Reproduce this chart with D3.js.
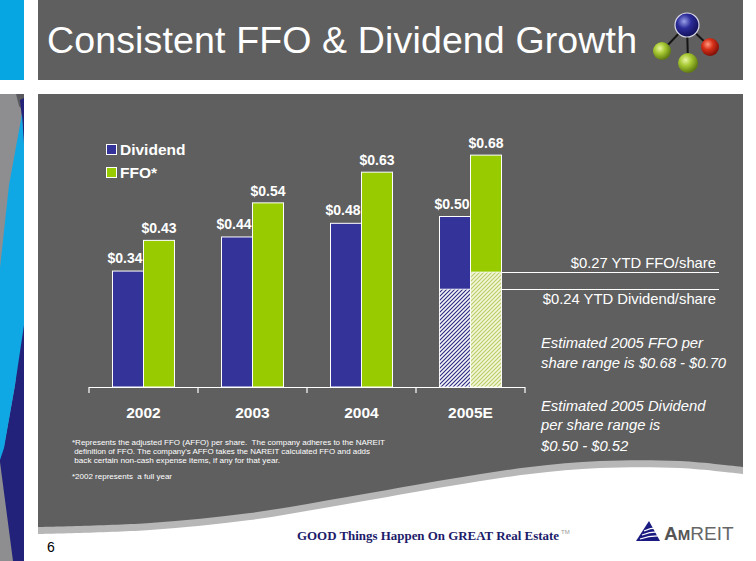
<!DOCTYPE html>
<html><head><meta charset="utf-8">
<script src="https://cdn.jsdelivr.net/npm/d3@7"></script>
<style>html,body{margin:0;padding:0;background:#fff;}svg{display:block;}</style>
</head><body>
<script>
// ---------- DATA ----------
const years = ["2002", "2003", "2004", "2005E"];
const seriesNames = ["Dividend", "FFO*"];
const dividend = [0.34, 0.44, 0.48, 0.50];
const ffo = [0.43, 0.54, 0.63, 0.68];
// 2005E year-to-date portions (hatched), as drawn in the picture
const ytdSeries = ["Dividend", "FFO*"];
const ytdDrawn = [0.287, 0.337];
const ytdLabels = ["$0.24 YTD Dividend/share", "$0.27 YTD FFO/share"];
const estimateNotes = [
  ["Estimated 2005 FFO per", "share range is $0.68 - $0.70"],
  ["Estimated 2005 Dividend", "per share range is", "$0.50 - $0.52"]
];
const footnotes = [
  "*Represents the adjusted FFO (AFFO) per share.  The company adheres to the NAREIT",
  " definition of FFO. The company's AFFO takes the NAREIT calculated FFO and adds",
  " back certain non-cash expense items, if any for that year.",
  "*2002 represents  a full year"
];
const title = "Consistent FFO & Dividend Growth";
const footerText = "GOOD Things Happen On GREAT Real Estate";
const pageNumber = "6";

// ---------- SETUP ----------
const W = 756, H = 561;
const PANEL = "#5f5f5f";
const BLUE = "#333399", GREEN = "#99cc00";
const FONT = "Arial, 'Liberation Sans', sans-serif";
const svg = d3.select("body").append("svg").attr("width", W).attr("height", H);
const defs = svg.append("defs");

function hatch(id, bg, fg) {
  const p = defs.append("pattern").attr("id", id).attr("patternUnits", "userSpaceOnUse")
    .attr("width", 4).attr("height", 4);
  p.append("rect").attr("width", 4).attr("height", 4).attr("fill", bg);
  p.append("path").attr("d", "M-1,1 L1,-1 M0,4 L4,0 M3,5 L5,3").attr("stroke", fg).attr("stroke-width", 1.1);
}
hatch("hDiv", "#f4f4f8", "#2a2a80");
hatch("hFfo", "#f3f6d8", "#b9cc66");

function ball(id, light, mid, dark) {
  const g = defs.append("radialGradient").attr("id", id).attr("cx", "38%").attr("cy", "35%").attr("r", "65%");
  g.append("stop").attr("offset", "0%").attr("stop-color", light);
  g.append("stop").attr("offset", "45%").attr("stop-color", mid);
  g.append("stop").attr("offset", "100%").attr("stop-color", dark);
}
ball("gBlue", "#9aa0e8", "#2c2c9a", "#12125a");
ball("gGreen", "#e8f5a0", "#a6c832", "#5f7a10");
ball("gRed", "#ff9a80", "#d83018", "#801008");

// ---------- BACKGROUND ----------
// left decorative strip
svg.append("rect").attr("x", 0).attr("y", 0).attr("width", 24).attr("height", 80).attr("fill", "#05a6e2");
svg.append("rect").attr("x", 0).attr("y", 94).attr("width", 24).attr("height", H - 94).attr("fill", "#8e8e91");
svg.append("polygon").attr("points", "16,94 24,94 24,112 19,106").attr("fill", "#5a5a5e");
svg.append("polygon").attr("points", "20,100 24,98 24,150 22,118").attr("fill", "#22227a");
svg.append("polygon").attr("points", "24,300 24,561 13,561 0,462 0,452 4,446 15,385")
  .attr("fill", "#22227a");
svg.append("polygon").attr("points", "22,114 24,145 24,325 15,385 4,448 0,460 0,268 9,185")
  .attr("fill", "#10a8e4");

// title bar
svg.append("rect").attr("x", 38).attr("y", 0).attr("width", 705).attr("height", 80).attr("fill", PANEL);

// main panel with curved bottom edge
const edge = [[743, 467], [680, 461], [600, 461], [530, 467], [450, 479], [347, 497], [250, 513], [150, 523], [38, 527]];
const edgePath = d3.line().curve(d3.curveCatmullRom)(edge);
const panelD = "M38,94 H743 V467 " + edgePath.replace(/^M/, "L") + " Z";
svg.append("path").attr("d", panelD).attr("fill", "#b7b7b7").attr("transform", "translate(0,7)");
svg.append("path").attr("d", panelD).attr("fill", PANEL);

// title
svg.append("text").attr("x", 47).attr("y", 53).attr("fill", "#fff")
  .attr("font-family", FONT).attr("font-size", 37.5)
  .attr("textLength", 590).attr("lengthAdjust", "spacing")
  .text(title);

// molecule logo
const mol = svg.append("g");
const mc = { b: [687, 25], l: [662, 51], r: [710, 47], d: [688, 63] };
[["b", "l"], ["b", "r"], ["b", "d"]].forEach(([a, b]) => {
  mol.append("line").attr("x1", mc[a][0]).attr("y1", mc[a][1]).attr("x2", mc[b][0]).attr("y2", mc[b][1])
    .attr("stroke", "#151515").attr("stroke-width", 2);
});
mol.append("circle").attr("cx", mc.l[0]).attr("cy", mc.l[1]).attr("r", 9).attr("fill", "url(#gGreen)");
mol.append("circle").attr("cx", mc.r[0]).attr("cy", mc.r[1]).attr("r", 9).attr("fill", "url(#gRed)");
mol.append("circle").attr("cx", mc.d[0]).attr("cy", mc.d[1]).attr("r", 10).attr("fill", "url(#gGreen)");
mol.append("circle").attr("cx", mc.b[0]).attr("cy", mc.b[1]).attr("r", 12).attr("fill", "url(#gBlue)")
  .attr("stroke", "#d8d8e8").attr("stroke-width", 1.2);

// ---------- CHART ----------
const baseY = 387;
const y = d3.scaleLinear().domain([0, 0.8]).range([baseY, baseY - 0.8 * 341]);
const x0 = d3.scaleBand().domain(years).range([89, 525]).paddingInner(0).paddingOuter(0);
const x1 = d3.scaleBand().domain(seriesNames).range([0, x0.bandwidth()]).paddingInner(0).paddingOuter(0.758);
const fmt = d3.format("$.2f");
const colors = d3.scaleOrdinal().domain(seriesNames).range([BLUE, GREEN]);

const rows = years.map((yr, i) => ({ year: yr, vals: [dividend[i], ffo[i]] }));
const chart = svg.append("g");
const groups = chart.selectAll("g.grp").data(rows).enter().append("g")
  .attr("transform", d => `translate(${x0(d.year)},0)`);
groups.selectAll("rect").data(d => d.vals.map((v, k) => ({ s: seriesNames[k], v }))).enter().append("rect")
  .attr("x", d => x1(d.s)).attr("width", x1.bandwidth())
  .attr("y", d => y(d.v)).attr("height", d => baseY - y(d.v))
  .attr("fill", d => colors(d.s)).attr("stroke", "#fff").attr("stroke-width", 1);

// hatched YTD portions on 2005E
const lastYear = years[years.length - 1];
const ytdG = chart.append("g").attr("transform", `translate(${x0(lastYear)},0)`);
ytdG.selectAll("rect").data(ytdSeries.map((s, k) => ({ s, v: ytdDrawn[k] }))).enter().append("rect")
  .attr("x", d => x1(d.s)).attr("width", x1.bandwidth())
  .attr("y", d => y(d.v)).attr("height", d => baseY - y(d.v))
  .attr("fill", (d, k) => k === 0 ? "url(#hDiv)" : "url(#hFfo)")
  .attr("stroke", "#fff").attr("stroke-width", 0.8);

// value labels
groups.selectAll("text.val").data(d => d.vals.map((v, k) => ({ s: seriesNames[k], v, k }))).enter().append("text")
  .attr("x", d => x1(d.s) + x1.bandwidth() / 2 - (d.k === 0 ? 3 : 0))
  .attr("y", d => y(d.v) - (d.k === 0 ? 8 : 7))
  .attr("text-anchor", "middle").attr("fill", "#fff")
  .attr("font-family", FONT).attr("font-weight", "bold").attr("font-size", 14)
  .text(d => fmt(d.v));

// axis
const axisG = chart.append("g").attr("stroke", "#fff").attr("stroke-width", 1.2);
axisG.append("line").attr("x1", x0.range()[0]).attr("x2", x0.range()[1]).attr("y1", baseY + 0.5).attr("y2", baseY + 0.5);
const tickXs = years.map(d => x0(d)).concat([x0.range()[1]]);
axisG.selectAll("line.tk").data(tickXs).enter().append("line")
  .attr("x1", d => d).attr("x2", d => d).attr("y1", baseY).attr("y2", baseY + 6);
chart.selectAll("text.yr").data(years).enter().append("text")
  .attr("x", d => x0(d) + x0.bandwidth() / 2).attr("y", 418)
  .attr("text-anchor", "middle").attr("fill", "#fff")
  .attr("font-family", FONT).attr("font-weight", "bold").attr("font-size", 15.5)
  .text(d => d);

// legend
const leg = svg.append("g");
seriesNames.forEach((s, k) => {
  const yy = 144 + k * 23;
  leg.append("rect").attr("x", 106.5).attr("y", yy + 0.5).attr("width", 10).attr("height", 10)
    .attr("fill", colors(s)).attr("stroke", "#fff").attr("stroke-width", 1);
  leg.append("text").attr("x", 120).attr("y", yy + 11).attr("fill", "#fff")
    .attr("font-family", FONT).attr("font-weight", "bold").attr("font-size", 15.5)
    .text(s);
});

// YTD leader lines & labels
const barRight = x0(lastYear) + x1(ytdSeries[1]) + x1.bandwidth();
ytdSeries.forEach((s, k) => {
  const ly = Math.round(y(ytdDrawn[k])) + 0.5;
  svg.append("line").attr("x1", barRight).attr("x2", 719).attr("y1", ly).attr("y2", ly)
    .attr("stroke", "#fff").attr("stroke-width", 1);
});
svg.append("text").attr("x", 716).attr("y", 268).attr("text-anchor", "end").attr("fill", "#fff")
  .attr("font-family", FONT).attr("font-size", 14.8).text(ytdLabels[1]);
svg.append("text").attr("x", 716).attr("y", 304).attr("text-anchor", "end").attr("fill", "#fff")
  .attr("font-family", FONT).attr("font-size", 14.8).text(ytdLabels[0]);

// estimate notes (italic)
const noteBaselines = [[348, 368], [411, 430, 451]];
estimateNotes.forEach((lines, g) => {
  lines.forEach((t, j) => {
    svg.append("text").attr("x", 541).attr("y", noteBaselines[g][j]).attr("fill", "#fff")
      .attr("font-family", FONT).attr("font-style", "italic").attr("font-size", 14.8)
      .text(t);
  });
});

// footnotes
const fnY = [445, 454, 463, 479];
const fnLen = [313, 298, 208, 100];
footnotes.forEach((t, i) => {
  svg.append("text").attr("x", 72).attr("y", fnY[i]).attr("fill", "#fff")
    .attr("font-family", FONT).attr("font-size", 8)
    .attr("textLength", fnLen[i]).attr("lengthAdjust", "spacingAndGlyphs").attr("xml:space", "preserve")
    .text(t);
});

// footer
svg.append("text").attr("x", 297).attr("y", 540).attr("fill", "#1c1c6a")
  .attr("font-family", "'Liberation Serif', 'Times New Roman', serif").attr("font-weight", "bold").attr("font-size", 13)
  .attr("textLength", 262).attr("lengthAdjust", "spacingAndGlyphs").text(footerText);
svg.append("text").attr("x", 561).attr("y", 534).attr("fill", "#999")
  .attr("font-family", FONT).attr("font-size", 6).text("TM");
svg.append("text").attr("x", 47).attr("y", 552).attr("fill", "#000")
  .attr("font-family", FONT).attr("font-size", 14).text(pageNumber);

// AmREIT logo
const lg = svg.append("g");
lg.append("polygon").attr("points", "636,541 649,521 660,541").attr("fill", "#1a1a80");
[[644, 531, 660, 528], [642, 535, 661, 532], [640, 539, 662, 536]].forEach(p => {
  lg.append("path").attr("d", `M${p[0]},${p[1]} Q${(p[0] + p[2]) / 2},${p[1] - 4} ${p[2]},${p[3]}`)
    .attr("stroke", "#fff").attr("stroke-width", 1.2).attr("fill", "none");
});
const lt = lg.append("text").attr("x", 664).attr("y", 540).attr("font-family", FONT);
lt.append("tspan").attr("font-weight", "bold").attr("font-size", 19).attr("fill", "#555").text("A");
lt.append("tspan").attr("font-weight", "bold").attr("font-size", 15).attr("fill", "#555").text("M");
lt.append("tspan").attr("font-size", 19).attr("fill", "#666").text("REIT");
</script>
</body></html>
